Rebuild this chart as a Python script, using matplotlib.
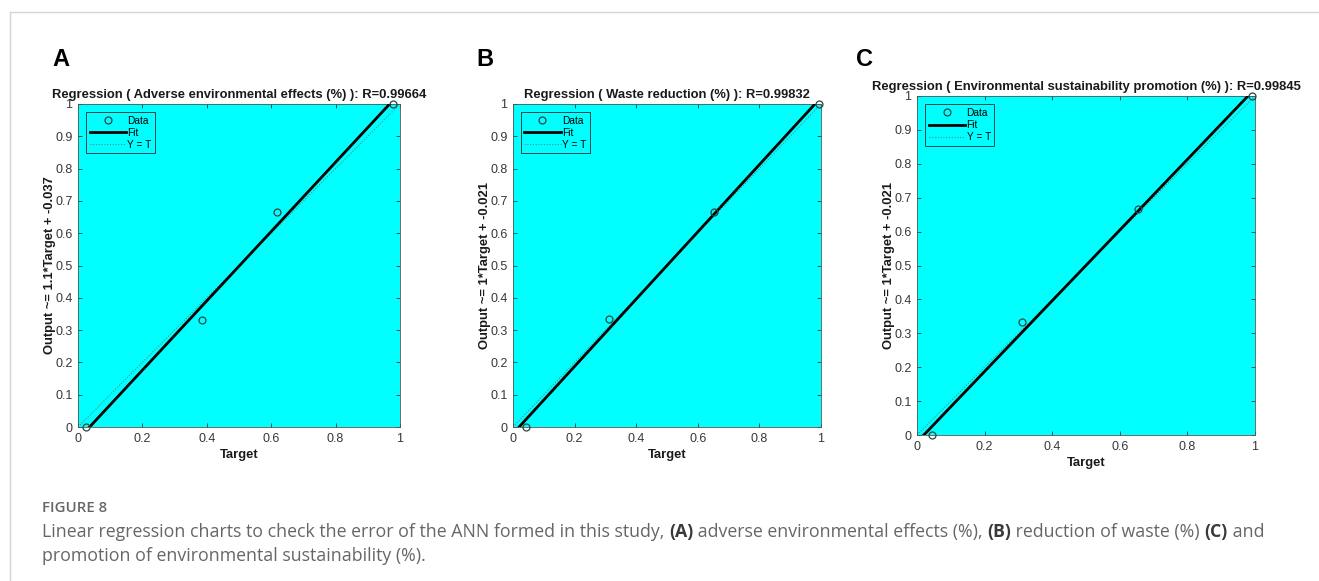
"""Figure 8: ANN regression plots (MATLAB plotregression look) with caption."""
import numpy as np
import matplotlib

matplotlib.use("Agg")
import matplotlib.pyplot as plt
from matplotlib.lines import Line2D

W, H = 1319, 581

panel_letters = ["A", "B", "C"]
titles = [
    "Regression ( Adverse environmental effects (%) ): R=0.99664",
    "Regression ( Waste reduction (%) ): R=0.99832",
    "Regression ( Environmental sustainability promotion (%) ): R=0.99845",
]
ylabels = [
    "Output ~= 1.1*Target + -0.037",
    "Output ~= 1*Target + -0.021",
    "Output ~= 1*Target + -0.021",
]
outputs = [0.0, 1 / 3, 2 / 3, 1.0]
targets_a = [0.026, 0.385, 0.617, 0.977]
targets_b = [0.043, 0.311, 0.653, 0.993]
targets_c = [0.044, 0.310, 0.653, 0.992]
outputs_a = [0.0, 0.332, 0.665, 1.0]
tick_vals = [0, 0.1, 0.2, 0.3, 0.4, 0.5, 0.6, 0.7, 0.8, 0.9, 1]
tick_labels = ["0", "0.1", "0.2", "0.3", "0.4", "0.5", "0.6", "0.7", "0.8", "0.9", "1"]
xtick_vals = [0, 0.2, 0.4, 0.6, 0.8, 1]
xtick_labels = ["0", "0.2", "0.4", "0.6", "0.8", "1"]

caption_head = "FIGURE 8"
caption_line1 = [
    ("Linear regression charts to check the error of the ANN formed in this study, ", "normal"),
    ("(A)", "bold"),
    (" adverse environmental effects (%), ", "normal"),
    ("(B)", "bold"),
    (" reduction of waste (%) ", "normal"),
    ("(C)", "bold"),
    (" and", "normal"),
]
caption_line2 = "promotion of environmental sustainability (%)."

# axes boxes in pixels: left, top, right, bottom
boxes = [(78, 104, 400, 427), (513, 104, 821, 427), (917, 96, 1255, 435)]
letter_pos = [(52, 66), (476, 66), (856, 66)]

CYAN = "#00ffff"
MFONT = "Liberation Sans"
LBL = 9.4

fig = plt.figure(figsize=(W / 100, H / 100), dpi=100)


def px_axes(l, t, r, b):
    return fig.add_axes([l / W, 1 - b / H, (r - l) / W, (b - t) / H])


datasets = [(targets_a, outputs_a), (targets_b, outputs), (targets_c, outputs)]
for i, (tgt, out) in enumerate(datasets):
    ax = px_axes(*boxes[i])
    ax.set_facecolor(CYAN)
    tgt = np.array(tgt)
    out = np.array(out)
    slope, icpt = np.polyfit(tgt, out, 1)
    xs = np.array([0.0, 1.0])
    ax.plot(xs, xs, linestyle=(0, (1, 1.5)), color="#4f8a8a", lw=0.8, zorder=2)
    ax.plot(xs, slope * xs + icpt, color="black", lw=2.0, zorder=3)
    ax.plot(tgt, out, "o", mfc="none", mec="#2a4444", ms=5, mew=0.9, zorder=4,
            clip_on=False)
    ax.set_xlim(0, 1)
    ax.set_ylim(0, 1)
    ax.set_xticks(xtick_vals)
    ax.set_xticklabels(xtick_labels)
    ax.set_yticks(tick_vals)
    ax.set_yticklabels(tick_labels)
    ax.tick_params(direction="in", length=3, width=0.6, top=True, right=True,
                   labelsize=9, colors="#383838", pad=4)
    for lab in ax.get_xticklabels() + ax.get_yticklabels():
        lab.set_fontfamily(MFONT)
    for sp in ax.spines.values():
        sp.set_color("#555555")
        sp.set_linewidth(0.6)
    ax.set_title(titles[i], fontsize=LBL, fontweight="bold", family=MFONT,
                 color="#1a1a1a", pad=4)
    ax.set_xlabel("Target", fontsize=LBL, fontweight="bold", family=MFONT,
                  color="#1a1a1a", labelpad=3)
    ax.set_ylabel(ylabels[i], fontsize=LBL, fontweight="bold", family=MFONT,
                  color="#1a1a1a", labelpad=-0.5)

    handles = [
        Line2D([], [], marker="o", ls="none", mfc="none", mec="#2a4444", ms=5, mew=0.9),
        Line2D([], [], color="black", lw=2.0),
        Line2D([], [], color="#4f8a8a", lw=0.8, linestyle=(0, (1, 1.5))),
    ]
    leg = ax.legend(handles, ["Data", "Fit", "Y = T"], loc="upper left",
                    bbox_to_anchor=(0.025, 0.975), prop={"family": MFONT, "size": 7.3},
                    frameon=True, fancybox=False, framealpha=1, facecolor=CYAN,
                    edgecolor="#2a4444", handlelength=3.6, handletextpad=0.1,
                    borderpad=0.35, labelspacing=0.2, borderaxespad=0)
    leg.get_frame().set_linewidth(0.7)

    lx, ly = letter_pos[i]
    fig.text(lx / W, 1 - ly / H, panel_letters[i], fontsize=17, fontweight="bold",
             family=MFONT, va="baseline", ha="left")

# page border lines
fig.add_artist(Line2D([10 / W, 10 / W], [0, 1 - 12 / H], transform=fig.transFigure,
                      color="#d4d4d4", lw=1))
fig.add_artist(Line2D([10 / W, 1], [1 - 12 / H, 1 - 12 / H], transform=fig.transFigure,
                      color="#d4d4d4", lw=1))

# caption
CFONT = "Open Sans"
CCOL = "#666666"
CSIZE = 12.8
fig.text(42 / W, 1 - 512 / H, caption_head, fontsize=10.8, fontweight="semibold",
         family=CFONT, color=CCOL, va="baseline")

renderer = fig.canvas.get_renderer()


def run_width(s, weight):
    a = fig.text(0, 0, "|" + s + "|", fontsize=CSIZE, fontweight=weight, family=CFONT)
    b = fig.text(0, 0, "||", fontsize=CSIZE, fontweight=weight, family=CFONT)
    w = a.get_window_extent(renderer).width - b.get_window_extent(renderer).width
    a.remove()
    b.remove()
    return w


x = 42.0
for s, weight in caption_line1:
    fig.text(x / W, 1 - 537 / H, s, fontsize=CSIZE, fontweight=weight, family=CFONT,
             color="#3a3a3a" if weight == "bold" else CCOL, va="baseline")
    x += run_width(s, weight)
fig.text(42 / W, 1 - 561 / H, caption_line2, fontsize=CSIZE, family=CFONT, color=CCOL,
         va="baseline")

fig.savefig("out.png", dpi=100)
